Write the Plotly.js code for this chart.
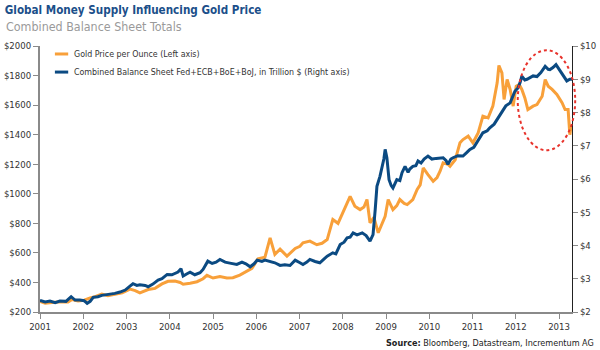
<!DOCTYPE html>
<html><head><meta charset="utf-8">
<script src="https://cdn.plot.ly/plotly-3.0.1.min.js"></script>
<style>html,body{margin:0;padding:0;background:#fff}#chart{width:600px;height:350px}</style>
</head><body><div id="chart"></div>
<script>
// Decimal years and gold price (USD per ounce, left axis)
var goldYears = [2001.00,2001.12,2001.28,2001.46,2001.65,2001.74,2001.88,2002.02,2002.16,2002.29,2002.43,2002.57,2002.73,2002.90,
 2003.08,2003.20,2003.31,2003.50,2003.66,2003.82,2003.96,2004.12,2004.24,2004.31,2004.47,2004.63,2004.77,2004.86,2005.00,
 2005.16,2005.32,2005.46,2005.62,2005.79,2005.90,2006.04,2006.20,2006.32,2006.43,2006.55,2006.71,2006.90,2007.01,2007.08,
 2007.24,2007.40,2007.52,2007.64,2007.77,2007.89,2008.01,2008.10,2008.17,2008.28,2008.40,2008.49,2008.56,2008.63,2008.72,
 2008.82,2008.88,2008.98,2009.05,2009.16,2009.25,2009.32,2009.42,2009.49,2009.62,2009.72,2009.79,2009.86,2009.97,2010.09,
 2010.18,2010.25,2010.32,2010.43,2010.48,2010.60,2010.71,2010.78,2010.90,2011.01,2011.13,2011.24,2011.36,2011.47,2011.57,
 2011.61,2011.68,2011.73,2011.80,2011.87,2011.94,2012.01,2012.08,2012.14,2012.21,2012.28,2012.40,2012.49,2012.61,2012.68,
 2012.75,2012.84,2012.95,2013.07,2013.14,2013.21,2013.25,2013.28];
var goldPrice = [272,260,265,270,268,285,275,280,295,305,322,310,320,330,
 355,345,330,352,360,390,408,410,400,388,395,405,425,448,430,
 440,430,432,450,476,495,560,570,702,590,625,578,630,645,668,
 680,655,665,690,826,800,880,939,983,916,893,910,961,803,840,
 736,780,848,961,893,920,961,935,927,961,1029,1060,1175,1130,1085,
 1110,1153,1210,1200,1186,1230,1345,1367,1390,1345,1412,1525,1514,1593,1751,
 1868,1818,1638,1773,1706,1593,1728,1739,1706,1649,1570,1593,1604,1660,1773,
 1728,1706,1672,1616,1570,1570,1400,1460];

// Decimal years and combined balance sheet (trillion USD, right axis)
var bsYears = [2001.00,2001.12,2001.23,2001.35,2001.46,2001.60,2001.72,2001.81,2001.92,2002.02,2002.09,2002.16,2002.23,2002.34,
 2002.43,2002.57,2002.73,2002.85,2002.97,2003.08,2003.15,2003.24,2003.31,2003.43,2003.50,2003.61,2003.73,2003.82,2003.94,
 2004.05,2004.12,2004.19,2004.26,2004.31,2004.40,2004.47,2004.58,2004.70,2004.77,2004.88,2004.98,2005.07,2005.16,2005.28,
 2005.39,2005.55,2005.67,2005.76,2005.86,2005.95,2006.02,2006.13,2006.20,2006.32,2006.43,2006.55,2006.66,2006.78,2006.90,
 2007.01,2007.08,2007.17,2007.24,2007.36,2007.47,2007.57,2007.64,2007.77,2007.84,2007.94,2008.03,2008.10,2008.17,2008.24,
 2008.33,2008.45,2008.54,2008.63,2008.70,2008.75,2008.79,2008.86,2008.91,2008.95,2008.98,2009.02,2009.07,2009.12,2009.16,
 2009.25,2009.32,2009.37,2009.44,2009.51,2009.55,2009.62,2009.69,2009.74,2009.81,2009.88,2009.97,2010.06,2010.16,2010.25,
 2010.32,2010.39,2010.43,2010.50,2010.55,2010.66,2010.78,2010.87,2010.94,2011.03,2011.10,2011.17,2011.24,2011.34,2011.40,
 2011.50,2011.57,2011.64,2011.71,2011.77,2011.87,2011.94,2011.98,2012.05,2012.10,2012.14,2012.21,2012.26,2012.33,2012.40,
 2012.49,2012.58,2012.68,2012.75,2012.79,2012.86,2012.93,2013.00,2013.07,2013.14,2013.18,2013.25,2013.30];
var bsTotal = [2.35,2.30,2.33,2.28,2.33,2.32,2.46,2.36,2.36,2.34,2.26,2.32,2.44,2.46,
 2.50,2.52,2.56,2.60,2.66,2.78,2.85,2.80,2.82,2.80,2.76,2.84,2.96,3.00,3.13,
 3.12,3.15,3.20,3.30,3.08,3.15,3.20,3.12,3.18,3.28,3.53,3.46,3.50,3.58,3.50,
 3.47,3.43,3.50,3.45,3.36,3.45,3.56,3.52,3.56,3.53,3.48,3.40,3.42,3.40,3.56,
 3.48,3.43,3.50,3.58,3.52,3.48,3.60,3.68,3.78,3.75,4.03,4.10,4.23,4.25,4.38,
 4.32,4.38,4.30,4.13,4.33,5.08,5.78,6.08,6.33,6.60,6.89,6.64,5.98,5.80,5.73,
 5.98,5.95,6.19,6.38,6.20,6.30,6.38,6.40,6.54,6.48,6.60,6.69,6.60,6.62,6.64,
 6.64,6.55,6.44,6.60,6.64,6.70,6.69,6.80,6.89,6.95,7.09,7.25,7.39,7.45,7.54,
 7.65,7.79,7.95,8.09,8.20,8.29,8.50,8.64,8.74,8.90,9.09,8.98,9.00,9.05,9.10,
 9.08,9.20,9.39,9.30,9.29,9.35,9.44,9.30,9.19,9.05,8.95,9.00,9.00];

var yearTicks = [2001,2002,2003,2004,2005,2006,2007,2008,2009,2010,2011,2012,2013];
var yearLabels = yearTicks.map(String);
var goldTicks = [200,400,600,800,1000,1200,1400,1600,1800,2000];
var goldLabels = goldTicks.map(function(v){return '$'+v;});
var bsTicks = [2,3,4,5,6,7,8,9,10];
var bsLabels = bsTicks.map(function(v){return '$'+v;});

var goldName = 'Gold Price per Ounce (Left axis)';
var bsName = 'Combined Balance Sheet Fed+ECB+BoE+BoJ, in Trillion $ (Right axis)';

var ORANGE = '#f8a03a', BLUE = '#0b4a82';
var FONT = '"Liberation Sans Narrow","DejaVu Sans Condensed","Arial Narrow",sans-serif';
var TICKFONT = {family: FONT, size: 9.5, color: '#333'};

var traces = [
  {x: goldYears, y: goldPrice, type: 'scatter', mode: 'lines', name: goldName,
   line: {color: ORANGE, width: 3}, yaxis: 'y', hoverinfo: 'skip'},
  {x: bsYears, y: bsTotal, type: 'scatter', mode: 'lines', name: bsName,
   line: {color: BLUE, width: 3}, yaxis: 'y2', hoverinfo: 'skip'}
];

var layout = {
  width: 600, height: 350,
  margin: {l: 40, r: 28, t: 46, b: 38},
  paper_bgcolor: '#fff', plot_bgcolor: '#fff',
  showlegend: false,
  font: {family: FONT, size: 10, color: '#333'},
  title: {text: '<b>Global Money Supply Influencing Gold Price</b>', x: 0.008, xref: 'container', xanchor: 'left',
          y: 0.973, yref: 'container', yanchor: 'middle', font: {family: FONT, size: 11.6, color: '#1b4f8a'}},
  xaxis: {range: [2001, 2013.30], tickvals: yearTicks, ticktext: yearLabels, showgrid: false, zeroline: false,
          showline: true, linecolor: '#8a8a8a', linewidth: 2, ticks: 'outside', ticklen: 5, tickcolor: '#8a8a8a', tickwidth: 1,
          tickfont: TICKFONT},
  yaxis: {range: [200, 2000], tickvals: goldTicks, ticktext: goldLabels, showgrid: false, zeroline: false,
          showline: true, linecolor: '#8a8a8a', linewidth: 2, ticks: 'outside', ticklen: 5, tickcolor: '#8a8a8a', tickwidth: 1,
          tickfont: TICKFONT},
  yaxis2: {range: [2, 10], overlaying: 'y', side: 'right', tickvals: bsTicks, ticktext: bsLabels, showgrid: false, zeroline: false,
          showline: true, linecolor: '#222', linewidth: 1, ticks: 'outside', ticklen: 5, tickcolor: '#8a8a8a', tickwidth: 1,
          tickfont: TICKFONT},
  shapes: [
    {type: 'circle', xref: 'paper', yref: 'paper', x0: 0.898, x1: 1.006, y0: 0.608, y1: 0.984,
     line: {color: '#e8322b', width: 2, dash: 'dot'}, layer: 'above'},
    {type: 'line', xref: 'paper', yref: 'paper', x0: 0.028, x1: 0.053, y0: 0.97, y1: 0.97, line: {color: ORANGE, width: 3}},
    {type: 'line', xref: 'paper', yref: 'paper', x0: 0.028, x1: 0.053, y0: 0.902, y1: 0.902, line: {color: BLUE, width: 3}}
  ],
  annotations: [
    {text: 'Combined Balance Sheet Totals', xref: 'paper', yref: 'paper', x: -0.067, y: 1.073, xanchor: 'left', yanchor: 'middle',
     showarrow: false, font: {family: FONT, size: 12.4, color: '#9a9a9a'}},
    {text: goldName, xref: 'paper', yref: 'paper', x: 0.06, y: 0.97, xanchor: 'left', yanchor: 'middle',
     showarrow: false, font: {family: FONT, size: 8.8, color: '#333'}},
    {text: bsName, xref: 'paper', yref: 'paper', x: 0.06, y: 0.902, xanchor: 'left', yanchor: 'middle',
     showarrow: false, font: {family: FONT, size: 8.8, color: '#333'}},
    {text: '<b>Source:</b> Bloomberg, Datastream, Incrementum AG', xref: 'paper', yref: 'paper', x: 1.045, y: -0.115,
     xanchor: 'right', yanchor: 'middle', showarrow: false, font: {family: FONT, size: 9, color: '#222'}}
  ]
};

Plotly.newPlot('chart', traces, layout, {staticPlot: true, displayModeBar: false});
</script></body></html>
